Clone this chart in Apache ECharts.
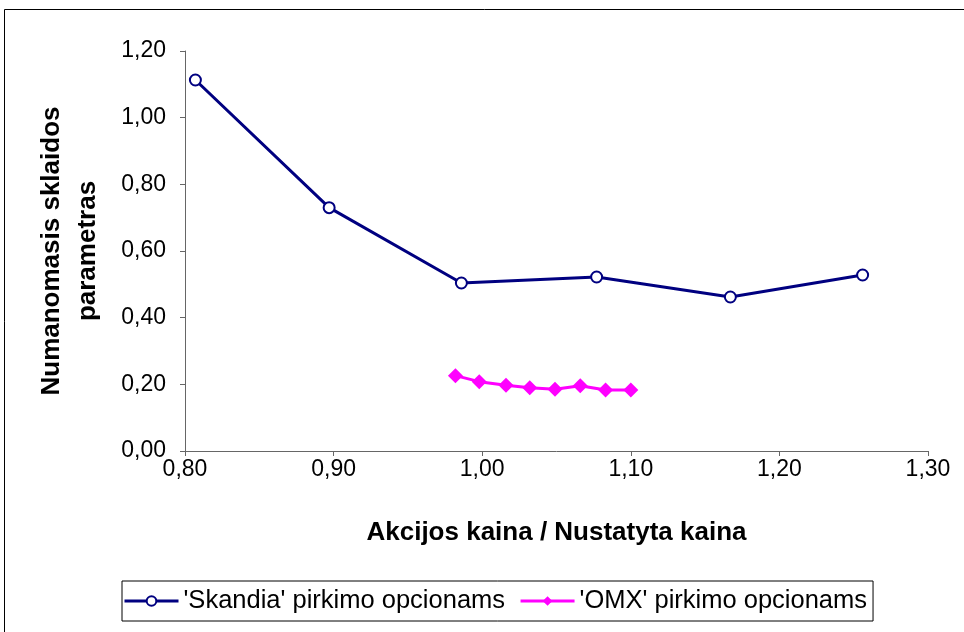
<!DOCTYPE html>
<html><head><meta charset="utf-8">
<script src="https://cdn.jsdelivr.net/npm/echarts@6/dist/echarts.min.js"></script>
<style>html,body{margin:0;padding:0;background:#fff}#c{width:964px;height:632px}</style>
</head><body><div id="c"></div>
<script>
const skandiaX = [0.807, 0.897, 0.986, 1.077, 1.167, 1.256];
const skandiaY = [1.113, 0.730, 0.504, 0.522, 0.462, 0.528];
const omxX = [0.982, 0.998, 1.016, 1.032, 1.049, 1.066, 1.083, 1.100];
const omxY = [0.226, 0.208, 0.197, 0.190, 0.185, 0.196, 0.183, 0.183];
const seriesNames = ["'Skandia' pirkimo opcionams", "'OMX' pirkimo opcionams"];
const xTitle = "Akcijos kaina / Nustatyta kaina";
const yTitle = "Numanomasis sklaidos\nparametras";

const fmt = v => v.toFixed(2).replace('.', ',');
const F = "'Liberation Sans', Arial, sans-serif";
const chart = echarts.init(document.getElementById('c'));
chart.setOption({
  animation: false,
  textStyle: {fontFamily: F},
  grid: {left: 185, right: 36, top: 51, bottom: 181},
  graphic: [{type: 'rect', shape: {x: 4.5, y: 9.5, width: 1000, height: 700}, style: {fill: 'none', stroke: '#000', lineWidth: 1}}],
  xAxis: {
    type: 'value', min: 0.8, max: 1.3, interval: 0.1,
    name: xTitle, nameLocation: 'middle', nameGap: 69,
    nameTextStyle: {fontSize: 26, fontWeight: 'bold', color: '#000', fontFamily: F},
    axisLine: {lineStyle: {color: '#666', width: 1}},
    axisTick: {show: true, length: 5, lineStyle: {color: '#666'}},
    axisLabel: {formatter: fmt, fontSize: 23, color: '#000', margin: 7, fontFamily: F},
    splitLine: {show: false}
  },
  yAxis: {
    type: 'value', min: 0, max: 1.2, interval: 0.2,
    name: yTitle, nameLocation: 'middle', nameRotate: 90, nameGap: 79,
    nameTextStyle: {fontSize: 26, fontWeight: 'bold', color: '#000', lineHeight: 36, fontFamily: F},
    axisLine: {show: true, lineStyle: {color: '#666', width: 1}},
    axisTick: {show: true, length: 5, lineStyle: {color: '#666'}},
    axisLabel: {formatter: fmt, fontSize: 23, color: '#000', margin: 19, fontFamily: F},
    splitLine: {show: false}
  },
  legend: {
    left: 122, top: 581,
    padding: [7, 6, 7, 1],
    borderColor: '#000', borderWidth: 1,
    itemWidth: 54, itemHeight: 12, itemGap: 14,
    textStyle: {fontSize: 25.5, color: '#000', fontFamily: F},
    data: [
      {name: seriesNames[0], lineStyle: {width: 3}},
      {name: seriesNames[1], lineStyle: {width: 3}}
    ]
  },
  series: [
    {
      name: seriesNames[0], type: 'line',
      data: skandiaX.map((x, i) => [x, skandiaY[i]]),
      symbol: 'emptyCircle', symbolSize: 11,
      lineStyle: {color: '#000080', width: 3},
      itemStyle: {color: '#000080', borderWidth: 1.5}
    },
    {
      name: seriesNames[1], type: 'line',
      data: omxX.map((x, i) => [x, omxY[i]]),
      symbol: 'diamond', symbolSize: 15,
      lineStyle: {color: '#FF00FF', width: 3},
      itemStyle: {color: '#FF00FF'}
    }
  ]
});
</script></body></html>
